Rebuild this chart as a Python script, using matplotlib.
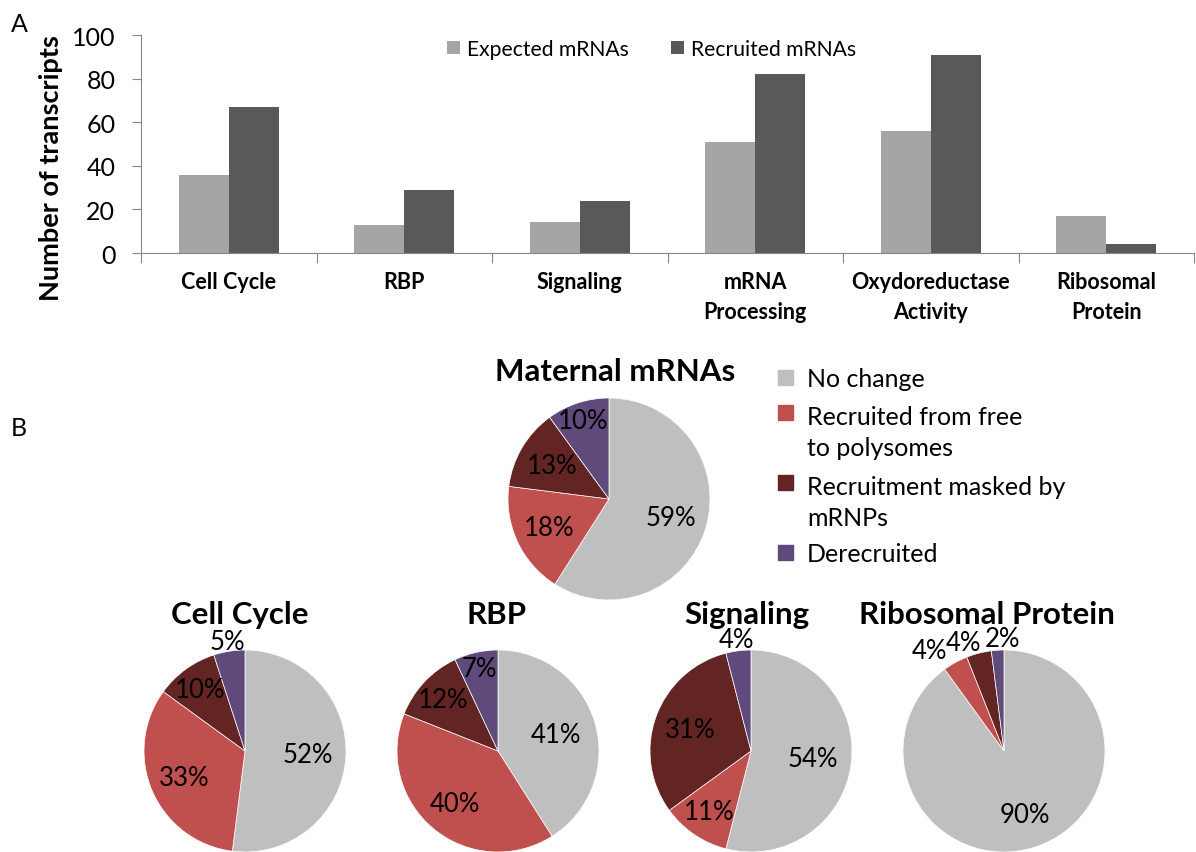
import numpy as np
import matplotlib
matplotlib.use("Agg")
import matplotlib.pyplot as plt
from matplotlib.patches import Rectangle

plt.rcParams["font.family"] = ["Lato", "DejaVu Sans"]

# panel A data
categories = ["Cell Cycle", "RBP", "Signaling", "mRNA\nProcessing",
              "Oxydoreductase\nActivity", "Ribosomal\nProtein"]
expected = [36, 13, 14, 51, 56, 17]
recruited = [67, 29, 24, 82, 91, 4]

# panel B data
pie_classes = ["No change", "Recruited from free\nto polysomes",
               "Recruitment masked by\nmRNPs", "Derecruited"]
pie_titles = ["Maternal mRNAs", "Cell Cycle", "RBP", "Signaling", "Ribosomal Protein"]
pie_values = [
    [59, 18, 13, 10],
    [52, 33, 10, 5],
    [41, 40, 12, 7],
    [54, 11, 31, 4],
    [90, 4, 4, 2],
]

pie_colors = ["#bfbfbf", "#c0504d", "#632523", "#604a7b"]
# radial distance of each percent label (in pie radii) and angular nudge (deg)
label_dist = [
    [0.64, 0.66, 0.65, 0.82],
    [0.62, 0.66, 0.75, 1.10],
    [0.60, 0.67, 0.74, 0.84],
    [0.62, 0.73, 0.64, 1.11],
    [0.66, 1.24, 1.15, 1.11],
]
label_nudge = [
    [0, 0, 0, 0],
    [0, 0, 0, 0],
    [0, 0, 0, 0],
    [0, 0, 0, 0],
    [0, 8, 6, -3],
]

W, H = 1196, 853
fig = plt.figure(figsize=(W / 100, H / 100), dpi=100)


def fx(px):
    return px / W


def fy(py):
    return 1 - py / H


# ---- panel A: bar chart
x0, x1, ytop, ybot = 141, 1194, 36, 254
ax = fig.add_axes([fx(x0), fy(ybot), fx(x1 - x0), (ybot - ytop) / H])
pos = np.arange(len(categories)) + 0.5
bw = 0.285
ax.bar(pos - bw / 2, expected, bw, color="#a5a5a5", label="Expected mRNAs")
ax.bar(pos + bw / 2, recruited, bw, color="#595959", label="Recruited mRNAs")
ax.set_xlim(0, len(categories))
ax.set_ylim(0, 100)
ax.set_yticks(range(0, 101, 20))
ax.tick_params(axis="y", labelsize=18, length=6.5, color="#868686", pad=12)
ax.set_xticks(np.arange(len(categories) + 1))
ax.set_xticklabels([])
ax.tick_params(axis="x", which="major", length=7, color="#868686")
ax.set_xticks(pos, minor=True)
ax.set_xticklabels(categories, minor=True, fontsize=15.5, fontweight="bold",
                   va="top", linespacing=1.5)
ax.tick_params(axis="x", which="minor", length=0, pad=13)
for s in ["top", "right"]:
    ax.spines[s].set_visible(False)
for s in ["left", "bottom"]:
    ax.spines[s].set_color("#868686")
ax.set_ylabel("Number of transcripts", fontsize=19.5, fontweight="bold")
ax.yaxis.set_label_coords((63 - x0) / (x1 - x0), (ybot - 168) / (ybot - ytop))
ax.legend(ncol=2, loc="center left", bbox_to_anchor=(fx(447), fy(50)),
          bbox_transform=fig.transFigure, frameon=False, borderpad=0,
          borderaxespad=0, fontsize=15.2, handlelength=0.62, handleheight=0.62,
          handletextpad=0.33, columnspacing=2.0)

fig.text(fx(11), fy(24), "A", fontsize=18, va="center")
fig.text(fx(11), fy(429), "B", fontsize=18, va="center")

# ---- panel B: pies
centers = [(609, 500), (245, 752), (498, 752), (751, 752), (1004, 752)]
title_pos = [(615, 372), (240, 615), (497, 615), (747, 615), (987, 615)]
r = 101
for k, (cx, cy) in enumerate(centers):
    pax = fig.add_axes([fx(cx - r), fy(cy + r), 2 * r / W, 2 * r / H])
    vals = pie_values[k]
    pax.pie(vals, colors=pie_colors, startangle=90, counterclock=False,
            wedgeprops=dict(linewidth=0.5, edgecolor="white"))
    total = sum(vals)
    start = 90.0
    for j, v in enumerate(vals):
        mid = np.deg2rad(start - 360.0 * v / total / 2 + label_nudge[k][j])
        start -= 360.0 * v / total
        d = label_dist[k][j]
        pax.text(d * np.cos(mid), d * np.sin(mid), f"{v}%", ha="center",
                 va="center", fontsize=18.5, clip_on=False)
    pax.set_xlim(-1, 1)
    pax.set_ylim(-1, 1)
    pax.set_aspect("equal")
    pax.axis("off")
    tx, ty = title_pos[k]
    fig.text(fx(tx), fy(ty), pie_titles[k], ha="center", va="center",
             fontsize=22.5, fontweight="bold")

# legend for pies
box_y = [378, 413, 483, 553]
text_y = [380, 433, 503, 554]
for j, lab in enumerate(pie_classes):
    fig.patches.append(Rectangle((fx(778), fy(box_y[j] + 7.5)), 15 / W, 15 / H,
                                 transform=fig.transFigure, color=pie_colors[j]))
    fig.text(fx(807), fy(text_y[j]), lab, fontsize=18, va="center",
             linespacing=1.4)

fig.savefig("out.png", dpi=100)
